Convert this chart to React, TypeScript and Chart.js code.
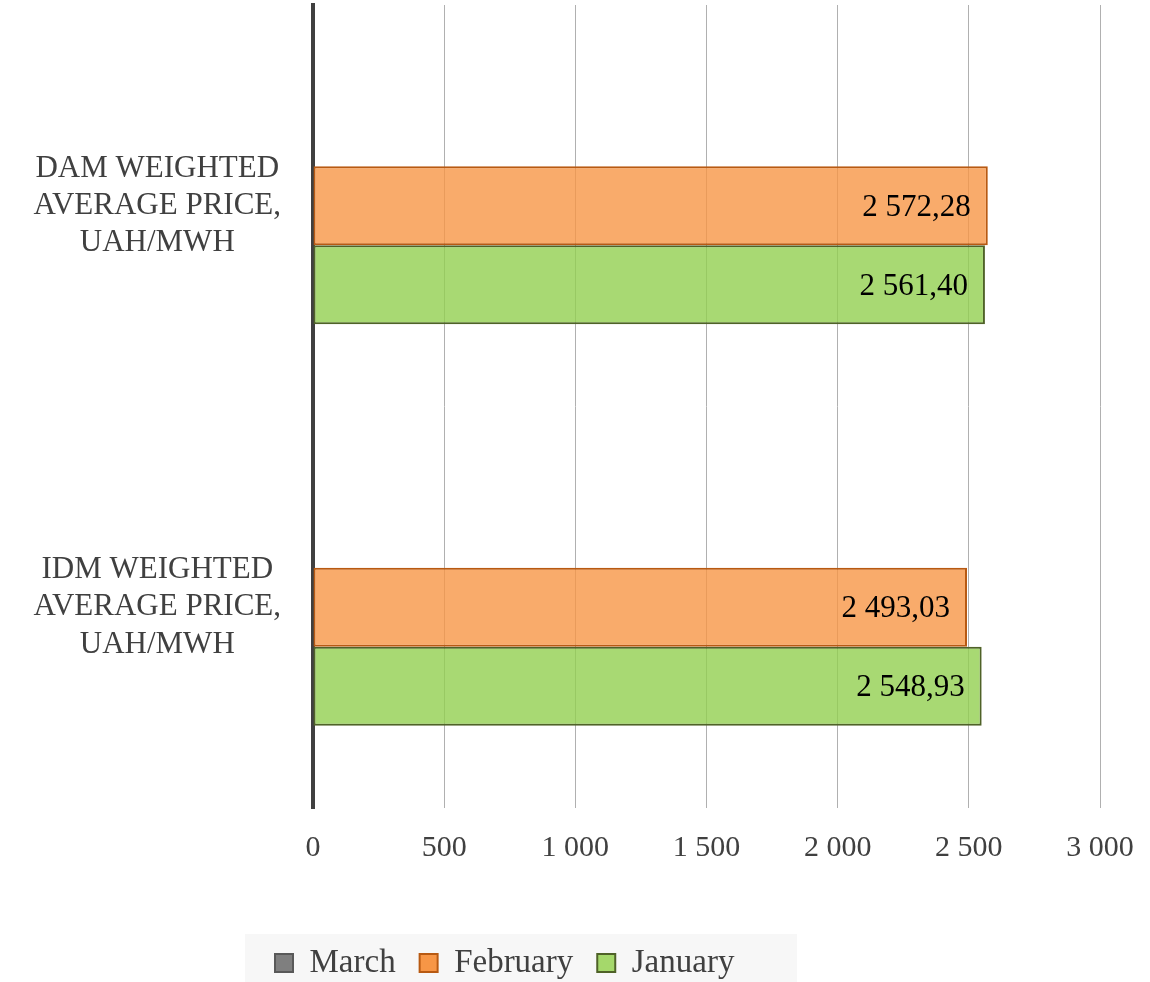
import React, { useEffect, useRef } from 'react';
import { Chart, registerables } from 'chart.js';
Chart.register(...registerables);

const categories: string[][] = [
  ['DAM WEIGHTED', 'AVERAGE PRICE,', 'UAH/MWH'],
  ['IDM WEIGHTED', 'AVERAGE PRICE,', 'UAH/MWH'],
];
const seriesNames = ['March', 'February', 'January'];
const marchValues: (number | null)[] = [null, null];
const februaryValues = [2572.28, 2493.03];
const januaryValues = [2561.4, 2548.93];
const xMin = 0;
const xMax = 3000;
const xStep = 500;

const barFills = ['rgba(127,127,127,0.8)', 'rgba(247,150,70,0.8)', 'rgba(146,208,80,0.8)'];
const barBorders = ['#595959', '#B85A12', '#4F6228'];
const legendFills = ['#7F7F7F', '#F79646', '#A5D86B'];

const FONT = '"Liberation Serif", "Times New Roman", serif';

function fmt(v: number, decimals: number): string {
  const fixed = v.toFixed(decimals);
  const parts = fixed.split('.');
  const intS = parts[0].replace(/\B(?=(\d{3})+(?!\d))/g, ' ');
  return parts[1] ? intS + ',' + parts[1] : intS;
}

const LEG_PAD = 24;
const LEG_FONT = 33;

const dataLabelPlugin = {
  id: 'dataLabels',
  afterDatasetsDraw(chart: any) {
    const ctx = chart.ctx;
    ctx.save();
    ctx.font = `31px ${FONT}`;
    ctx.fillStyle = '#000000';
    ctx.textAlign = 'right';
    ctx.textBaseline = 'middle';
    chart.data.datasets.forEach((ds: any, i: number) => {
      const meta = chart.getDatasetMeta(i);
      meta.data.forEach((el: any, j: number) => {
        const v = ds.data[j];
        if (v == null) return;
        ctx.fillText(fmt(v, 2), el.x - 17, el.y + 2);
      });
    });
    ctx.restore();
  },
};

const legendPlugin = {
  id: 'legendPlace',
  afterLayout(chart: any) {
    const lg = chart.legend;
    if (!lg || !lg.lineWidths) return;
    const lw = lg.lineWidths[0];
    const firstX = 275;
    const textCenter = 963;
    const h = lg.height;
    lg.left = 0;
    lg.right = 2 * firstX - LEG_PAD + lw;
    lg.width = lg.right;
    lg.top = textCenter - LEG_PAD - LEG_FONT / 2;
    lg.bottom = lg.top + h;
    (chart as any)._legendBg = { x: firstX - 30, y: textCenter - 29, w: 552, h: 60 };
  },
  beforeDraw(chart: any) {
    const bg = chart._legendBg;
    if (!bg) return;
    const ctx = chart.ctx;
    ctx.save();
    ctx.fillStyle = '#F7F7F7';
    ctx.fillRect(bg.x, bg.y, bg.w, bg.h);
    ctx.restore();
  },
};

export default function App() {
  const ref = useRef<HTMLCanvasElement>(null);
  useEffect(() => {
    if (!ref.current) return;
    const seriesData = [marchValues, februaryValues, januaryValues];
    const chart = new Chart(ref.current, {
      type: 'bar',
      data: {
        labels: categories as any,
        datasets: seriesNames.map((name, i) => ({
          label: name,
          data: seriesData[i] as any,
          backgroundColor: barFills[i],
          borderColor: barBorders[i],
          borderWidth: 2,
          borderSkipped: false,
          barPercentage: 1,
          categoryPercentage: 0.59,
        })),
      },
      options: {
        indexAxis: 'y',
        responsive: false,
        animation: false,
        devicePixelRatio: 1,
        layout: { padding: { top: 5, right: 50, left: 0, bottom: 0 } },
        scales: {
          x: {
            min: xMin,
            max: xMax,
            ticks: {
              stepSize: xStep,
              padding: 22,
              color: '#404040',
              font: { family: FONT, size: 30 },
              callback: (v: any) => fmt(Number(v), 0),
            },
            grid: { color: '#B0B0B0', lineWidth: 1, drawTicks: false },
            border: { display: false },
            afterFit: (scale: any) => {
              const lh = scale.chart.legend ? scale.chart.legend.height : 81;
              scale.height = 982 - 808 - lh;
              scale.paddingLeft = 0;
              scale.paddingRight = 0;
            },
          },
          y: {
            ticks: {
              color: '#404040',
              font: { family: FONT, size: 31, lineHeight: 1.2 },
              crossAlign: 'center',
              padding: 32,
            },
            grid: { display: false, drawTicks: false },
            border: { display: true, color: '#404040', width: 4 },
            afterFit: (scale: any) => {
              scale.width = 313;
              scale.paddingTop = 0;
              scale.paddingBottom = 0;
            },
          },
        },
        plugins: {
          tooltip: { enabled: false },
          legend: {
            position: 'bottom',
            labels: {
              color: '#404040',
              font: { family: FONT, size: LEG_FONT },
              boxWidth: 18,
              boxHeight: 18,
              padding: LEG_PAD,
              generateLabels: (c: any) => {
                const items = (Chart.defaults.plugins.legend.labels as any).generateLabels(c);
                items.forEach((it: any, i: number) => {
                  it.fillStyle = legendFills[i];
                  it.strokeStyle = barBorders[i];
                  it.lineWidth = 2;
                });
                return items;
              },
            },
          },
        },
      },
      plugins: [dataLabelPlugin, legendPlugin],
    } as any);
    return () => chart.destroy();
  }, []);
  return (
    <div style={{ position: 'fixed', left: 0, top: 0, width: 1150, height: 982, background: '#ffffff' }}>
      <canvas ref={ref} width={1150} height={982} style={{ display: 'block' }} />
    </div>
  );
}
